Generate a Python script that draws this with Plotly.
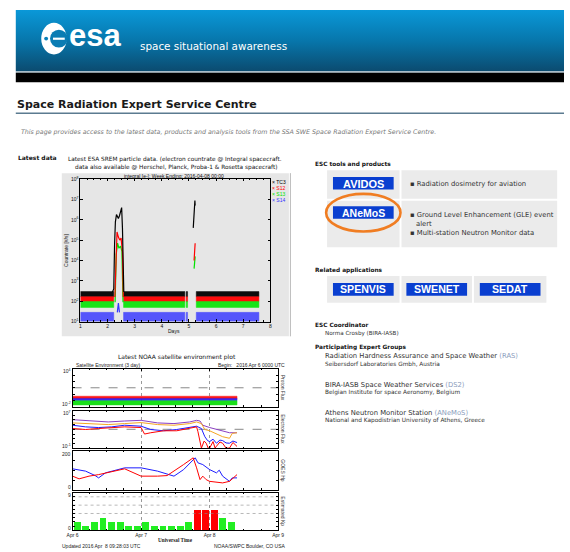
import plotly.graph_objects as go

W, H = 570, 552

# ---------------- SREM / INTEGRAL (top-left chart) ----------------
srem_day_ticks = [1, 2, 3, 4, 5, 6, 7, 8]
srem_decades = [1, 2, 3, 4, 5, 6, 7, 8]
srem_names = ["TC3", "S12", "S13", "S14"]
srem_colors = ["#000000", "#ff0000", "#00e400", "#3535ff"]
# data segments (days) with background count-rate bands (log10 #/s)
srem_seg_start = [1.00, 2.59, 4.90, 5.27]
srem_seg_end = [2.23, 4.85, 4.95, 7.58]
tc3_band = [2.22, 2.47]
s12_band = [1.98, 2.22]
s13_band = [1.69, 1.98]
s14_band = [1.00, 1.45]
# belt passes / spikes (day, log10 #/s)
tc3_spike1_day = [2.18, 2.23, 2.26, 2.29, 2.33, 2.36, 2.40, 2.44, 2.48, 2.52, 2.55, 2.57, 2.60]
tc3_spike1_log = [2.45, 2.60, 4.80, 5.90, 6.26, 6.15, 6.06, 6.20, 6.45, 6.60, 5.60, 3.40, 2.45]
s12_spike1_day = [2.27, 2.31, 2.35, 2.40, 2.45, 2.50, 2.55, 2.58]
s12_spike1_log = [2.20, 4.50, 5.40, 5.15, 5.00, 5.10, 4.40, 2.20]
s13_spike1_day = [2.28, 2.32, 2.37, 2.42, 2.48, 2.53, 2.57]
s13_spike1_log = [1.95, 4.30, 4.85, 4.60, 4.70, 4.45, 1.95]
s14_spike1_day = [2.36, 2.40, 2.44]
s14_spike1_log = [1.45, 1.90, 1.45]
tc3_spike2_day = [5.16, 5.18, 5.20, 5.22, 5.23]
tc3_spike2_log = [5.60, 6.20, 6.80, 6.95, 6.70]
s12_spike2_day = [5.19, 5.21, 5.23]
s12_spike2_log = [4.00, 4.60, 4.85]
s13_spike2_day = [5.19, 5.21, 5.23]
s13_spike2_log = [3.60, 4.00, 4.20]

# ---------------- NOAA satellite environment (bottom-left) ----------------
noaa_day_ticks = [0, 1, 2, 3]
noaa_day_labels = ["Apr 6", "Apr 7", "Apr 8", "Apr 9"]
proton_days = [0.0, 2.40]
proton_red_band = [-0.85, -0.35]
proton_blue_band = [-1.06, -0.70]
proton_green_band = [-1.74, -1.06]
proton_threshold = 1.0
electron_threshold = 3.0

e_purple_day = [0, 0.29, 0.52, 0.76, 1.0, 1.24, 1.48, 1.71, 1.81, 1.86, 1.90, 2.0, 2.10, 2.19, 2.29, 2.40]
e_purple_log = [5.05, 4.77, 4.57, 4.77, 4.91, 4.36, 4.22, 4.57, 4.91, 4.77, 3.87, 3.38, 2.96, 2.69, 2.27, 2.27]
e_orange_day = [0, 0.29, 0.52, 0.76, 1.0, 1.24, 1.48, 1.71, 1.81, 1.88, 1.93, 2.0, 2.10, 2.19, 2.29, 2.33, 2.40]
e_orange_log = [4.36, 4.22, 4.01, 4.22, 4.43, 4.01, 3.87, 4.22, 4.57, 4.22, 2.96, 2.69, 1.99, 1.43, 1.09, 2.13, 2.27]
e_blue_day = [0, 0.19, 0.38, 0.57, 0.76, 1.0, 1.14, 1.33, 1.52, 1.71, 1.81, 1.88, 1.93, 1.97, 2.0, 2.05, 2.10, 2.15, 2.19, 2.24, 2.29, 2.34, 2.40]
e_blue_log = [3.87, 3.52, 3.38, 3.52, 3.87, 3.66, 2.96, 2.69, 2.96, 3.38, 3.66, 3.17, 1.43, 0.60, 0.39, 0.90, 0.04, 0.70, 0.60, 0.10, 0.04, 0.50, 0.18]
e_red_day = [0, 0.19, 0.38, 0.76, 1.0, 1.05, 1.14, 1.33, 1.52, 1.71, 1.81, 1.83, 1.87, 1.88, 1.92, 1.95, 1.98, 2.0, 2.05, 2.08, 2.10, 2.15, 2.19, 2.24, 2.29, 2.34, 2.40]
e_red_log = [3.17, 2.96, 3.17, 3.52, 3.38, 1.99, 2.27, 2.69, 2.69, 3.17, 3.52, 2.48, 0.04, -1.0, 0.50, 0.04, -1.0, -1.0, 0.39, -1.0, -0.6, 0.3, 0.04, -1.0, -1.0, 0.2, -0.65]

hp_blue_day = [0, 0.19, 0.33, 0.38, 0.48, 0.76, 1.0, 1.24, 1.48, 1.62, 1.79, 1.83, 1.90, 2.0, 2.10, 2.14, 2.19, 2.29, 2.33, 2.40]
hp_blue = [108, 96, 73, 61, 87, 113, 113, 96, 70, 104, 165, 139, 130, 104, 87, 101, 70, 43, 61, 61]
hp_red_day = [0, 0.095, 0.24, 0.38, 0.76, 0.90, 1.0, 1.24, 1.38, 1.62, 1.76, 1.81, 1.86, 1.90, 1.95, 2.0, 2.10, 2.19, 2.29, 2.40]
hp_red = [70, 56, 70, 78, 108, 87, 70, 70, 73, 130, 165, 113, 52, 70, 52, 43, 38, 35, 43, 78]

kp_bin_center = [0.0625, 0.1875, 0.3125, 0.4375, 0.5625, 0.6875, 0.8125, 0.9375, 1.0625, 1.1875,
                 1.3125, 1.4375, 1.5625, 1.6875, 1.8125, 1.9375, 2.0625, 2.1875, 2.3125]
kp_values = [2, 1, 2, 3, 2, 2, 1, 1, 2, 1, 1, 1, 1, 2, 5, 5, 5, 3, 2]
kp_levels = [4, 6, 8]

# ---------------------------------------------------------------------------
PAGE_FONT = "DejaVu Sans"
PLOT_FONT = "Liberation Sans"
TINY = 5.0

fig = go.Figure()
shapes = []
annos = []


def ydom(top, bottom):
    return [1 - bottom / H, 1 - top / H]


def xdom(left, right):
    return [left / W, right / W]


def rect(x0, y0, x1, y1, fill, layer="below", line=None):
    shapes.append(dict(type="rect", xref="x", yref="y", x0=x0, x1=x1, y0=y0, y1=y1,
                       fillcolor=fill, line=line or dict(width=0), layer=layer))


def txt(x, y, s, size=6, color="#222222", anchor="left", font=PAGE_FONT, angle=0):
    annos.append(dict(x=x, y=y, xref="x", yref="y", text=s, showarrow=False,
                      xanchor=anchor, yanchor="middle", textangle=angle,
                      font=dict(family=font, size=size, color=color),
                      borderpad=0, borderwidth=0))


# ---------- base pixel axis ----------
fig.update_layout(
    xaxis=dict(domain=[0, 1], range=[0, W], visible=False, fixedrange=True),
    yaxis=dict(domain=[0, 1], range=[H, 0], visible=False, fixedrange=True),
)

# header banner with gradient
fig.add_trace(go.Scatter(
    x=[10, W, W, 10, 10], y=[7, 7, 69, 69, 7], mode="lines", line=dict(width=0),
    fill="toself", fillgradient=dict(type="vertical", start=7, stop=69,
                                     colorscale=[[0, "#0a98d8"], [0.5, "#0776ab"], [1, "#0b4a6e"]]),
    hoverinfo="skip", showlegend=False, xaxis="x", yaxis="y"))
rect(10, 69, W, 70.5, "#9fb5c2", layer="above")
rect(10, 70.5, W, 80, "#000000", layer="above")

# ESA logo (stylised)
shapes.append(dict(type="circle", xref="x", yref="y", x0=36, x1=62, y0=20, y1=52,
                   fillcolor="#ffffff", line=dict(width=0), layer="above"))
shapes.append(dict(type="circle", xref="x", yref="y", x0=45, x1=63, y0=27, y1=45,
                   fillcolor="#0a7cb3", line=dict(width=0), layer="above"))
rect(48, 35, 60, 37.2, "#ffffff", layer="above")
shapes.append(dict(type="circle", xref="x", yref="y", x0=39, x1=43, y0=34, y1=38,
                   fillcolor="#0a80b8", line=dict(width=0), layer="above"))
txt(64, 33, "<b>esa</b>", size=31, color="#ffffff", font="Liberation Sans")
txt(137, 43, "space situational awareness", size=10.4, color="#ffffff", font=PAGE_FONT)

# titles
txt(11, 103, "<b>Space Radiation Expert Service Centre</b>", size=11, color="#1a1a1a")
shapes.append(dict(type="line", xref="x", yref="y", x0=10, x1=W, y0=111.5, y1=111.5,
                   line=dict(color="#5b7b90", width=1.5)))
txt(15, 130, "<i>This page provides access to the latest data, products and analysis tools from the SSA SWE Space Radiation Expert Service Centre.</i>",
    size=6.3, color="#777777")
txt(12, 156, "<b>Latest data</b>", size=6, color="#111111")

# ---------- SREM chart ----------
txt(173, 158, "Latest ESA SREM particle data. (electron countrate @ Integral spacecraft.", size=5.8,
    color="#111111", anchor="center")
txt(174, 166.5, "data also available @ Herschel, Planck, Proba-1 & Rosetta spacecraft)", size=5.8,
    color="#111111", anchor="center")
rect(57, 172, 289, 337, "#e6e6e6")
shapes.append(dict(type="line", xref="x", yref="y", x0=290.5, x1=290.5, y0=172, y1=337,
                   line=dict(color="#b8b8b8", width=1)))
txt(172, 175, "integral [e-]: Week Ending: 2016-04-08 00:00", size=TINY, color="#111111",
    anchor="center", font=PLOT_FONT)
txt(62, 250, "Countrate [#/s]", size=TINY, color="#111111", anchor="center", font=PLOT_FONT, angle=-90)
txt(172, 332, "Days", size=TINY, color="#111111", anchor="center", font=PLOT_FONT)
for i, (nm, col) in enumerate(zip(srem_names, srem_colors)):
    txt(272, 181 + 6 * i, "× " + nm, size=TINY, color=col, font=PLOT_FONT)


def band_xy(starts, ends, lo, hi):
    xs, ys = [], []
    for s, e in zip(starts, ends):
        xs += [s, e, e, s, s, None]
        ys += [10 ** lo, 10 ** lo, 10 ** hi, 10 ** hi, 10 ** lo, None]
    return xs, ys


bands = [tc3_band, s12_band, s13_band, s14_band]
for band, col, op in zip(bands, srem_colors, [0.95, 0.95, 0.9, 0.82]):
    bx, by = band_xy(srem_seg_start, srem_seg_end, band[0], band[1])
    fig.add_trace(go.Scatter(x=bx, y=by, mode="lines", line=dict(width=0.5, color=col),
                             fill="toself", fillcolor=col, opacity=op, hoverinfo="skip",
                             showlegend=False, xaxis="x2", yaxis="y2"))

spikes = [
    (s14_spike1_day, s14_spike1_log, srem_colors[3]),
    (s13_spike1_day, s13_spike1_log, srem_colors[2]),
    (s12_spike1_day, s12_spike1_log, srem_colors[1]),
    (tc3_spike1_day, tc3_spike1_log, srem_colors[0]),
    (s13_spike2_day, s13_spike2_log, srem_colors[2]),
    (s12_spike2_day, s12_spike2_log, srem_colors[1]),
    (tc3_spike2_day, tc3_spike2_log, srem_colors[0]),
]
for dx, lg, col in spikes:
    fig.add_trace(go.Scatter(x=dx, y=[10 ** v for v in lg], mode="lines",
                             line=dict(width=1.2, color=col), hoverinfo="skip",
                             showlegend=False, xaxis="x2", yaxis="y2"))

axis_common = dict(showline=True, linecolor="#000000", linewidth=0.8, mirror="ticks",
                   ticks="inside", ticklen=2.5, tickwidth=0.6, tickcolor="#000000",
                   showgrid=False, zeroline=False, fixedrange=True)
fig.update_layout(
    xaxis2=dict(domain=xdom(76, 270), anchor="y2", range=[1, 8], tickvals=srem_day_ticks,
                tickfont=dict(family=PLOT_FONT, size=TINY, color="#111"),
                minor=dict(ticks="inside", ticklen=1.5, dtick=0.25, tickcolor="#000"),
                **axis_common),
    yaxis2=dict(domain=ydom(178, 322), anchor="x2", type="log", range=[1, 8],
                tickvals=[10 ** k for k in srem_decades],
                ticktext=["10<sup>%d</sup>" % k for k in srem_decades],
                tickfont=dict(family=PLOT_FONT, size=TINY, color="#111"),
                **axis_common),
)

# ---------- NOAA chart ----------
txt(175, 357.5, "Latest NOAA satellite environment plot", size=6, color="#111111", anchor="center")
txt(72, 365.5, "Satellite Environment (3 day)", size=TINY, color="#222222", font=PLOT_FONT)
txt(285, 365.5, "Begin:   2016 Apr 6 0000 UTC", size=TINY, color="#222222", font=PLOT_FONT, anchor="right")
txt(57, 548.5, "Updated 2016 Apr  8 09:28:03 UTC", size=TINY, color="#222222", font=PLOT_FONT)
txt(286, 548.5, "NOAA/SWPC Boulder, CO USA", size=TINY, color="#222222", font=PLOT_FONT, anchor="right")
txt(173, 543, "<b>Universal Time</b>", size=5.2, color="#222222", font="Liberation Serif", anchor="center")

panel_rows = [(370, 408, "Proton Flux"), (412, 450, "Electron Flux"),
              (453, 492, "GOES Hp"), (495, 533, "Estimated Kp")]
for top, bot, lab in panel_rows:
    txt(283, (top + bot) / 2, lab, size=TINY, color="#333333", anchor="center", font=PLOT_FONT, angle=90)

# panel end labels (top / bottom of each y range)
panel_end_labels = [("10<sup>4</sup>", "10<sup>-2</sup>"), ("10<sup>7</sup>", "10<sup>-1</sup>"),
                    ("200", "0"), ("9", "0")]
for (top, bot, _), (lt, lb) in zip(panel_rows, panel_end_labels):
    txt(66, top + 2.5, lt, size=TINY, color="#222222", font=PLOT_FONT, anchor="right")
    txt(66, bot - 2.5, lb, size=TINY, color="#222222", font=PLOT_FONT, anchor="right")

# proton flux bands
for band, col in [(proton_red_band, "#ff0000"), (proton_blue_band, "#2020ff"),
                  (proton_green_band, "#00dd00")]:
    bx, by = band_xy([proton_days[0]], [proton_days[1]], band[0], band[1])
    fig.add_trace(go.Scatter(x=bx, y=by, mode="lines", line=dict(width=0.5, color=col),
                             fill="toself", fillcolor=col, opacity=0.9, hoverinfo="skip",
                             showlegend=False, xaxis="x3", yaxis="y3"))
fig.add_trace(go.Scatter(x=[0, 3], y=[10 ** proton_threshold] * 2, mode="lines",
                         line=dict(width=0.7, color="#555555", dash="dash"),
                         hoverinfo="skip", showlegend=False, xaxis="x3", yaxis="y3"))

# electron flux
fig.add_trace(go.Scatter(x=[0, 3], y=[10 ** electron_threshold] * 2, mode="lines",
                         line=dict(width=0.7, color="#555555", dash="dash"),
                         hoverinfo="skip", showlegend=False, xaxis="x4", yaxis="y4"))
for dx, lg, col in [(e_purple_day, e_purple_log, "#8a3fc0"), (e_orange_day, e_orange_log, "#f5a623"),
                    (e_blue_day, e_blue_log, "#1c1cff"), (e_red_day, e_red_log, "#ff0000")]:
    fig.add_trace(go.Scatter(x=dx, y=[10 ** v for v in lg], mode="lines",
                             line=dict(width=1.0, color=col), hoverinfo="skip",
                             showlegend=False, xaxis="x4", yaxis="y4"))

# GOES Hp
for dx, vals, col in [(hp_blue_day, hp_blue, "#1c1cff"), (hp_red_day, hp_red, "#ff0000")]:
    fig.add_trace(go.Scatter(x=dx, y=vals, mode="lines", line=dict(width=1.0, color=col),
                             hoverinfo="skip", showlegend=False, xaxis="x5", yaxis="y5"))

# Kp
for lv in kp_levels:
    fig.add_trace(go.Scatter(x=[0, 3], y=[lv, lv], mode="lines",
                             line=dict(width=0.6, color="#888888", dash="dot"),
                             hoverinfo="skip", showlegend=False, xaxis="x6", yaxis="y6"))
kp_colors = ["#ff0000" if v >= 5 else ("#ffdd00" if v == 4 else "#22ee22") for v in kp_values]
fig.add_trace(go.Bar(x=kp_bin_center, y=kp_values, width=0.1, marker=dict(color=kp_colors, line=dict(width=0)),
                     hoverinfo="skip", showlegend=False, xaxis="x6", yaxis="y6"))

noaa_x = dict(domain=xdom(68, 278), range=[0, 3], tickvals=noaa_day_ticks,
              showgrid=True, gridcolor="#999999", griddash="dot", gridwidth=0.7,
              minor=dict(ticks="inside", ticklen=1.5, dtick=0.25, tickcolor="#000"),
              showline=True, linecolor="#000000", linewidth=0.8, mirror="ticks",
              ticks="inside", ticklen=2.5, tickwidth=0.6, tickcolor="#000000",
              zeroline=False, fixedrange=True,
              tickfont=dict(family=PLOT_FONT, size=TINY, color="#222"))
noaa_y = dict(showline=True, linecolor="#000000", linewidth=0.8, mirror="ticks",
              ticks="inside", ticklen=2.5, tickwidth=0.6, tickcolor="#000000",
              showgrid=False, zeroline=False, fixedrange=True, showticklabels=False)

p_dec = list(range(-2, 5))
e_dec = list(range(-1, 8))
fig.update_layout(
    xaxis3=dict(anchor="y3", showticklabels=False, **noaa_x),
    xaxis4=dict(anchor="y4", showticklabels=False, **noaa_x),
    xaxis5=dict(anchor="y5", showticklabels=False, **noaa_x),
    xaxis6=dict(anchor="y6", ticktext=noaa_day_labels, **noaa_x),
    yaxis3=dict(domain=ydom(370, 408), anchor="x3", type="log", range=[-2, 4],
                tickvals=[10 ** k for k in p_dec], **noaa_y),
    yaxis4=dict(domain=ydom(412, 450), anchor="x4", type="log", range=[-1, 7],
                tickvals=[10 ** k for k in e_dec], **noaa_y),
    yaxis5=dict(domain=ydom(453, 492), anchor="x5", range=[0, 200],
                tickvals=[0, 50, 100, 150, 200], **noaa_y),
    yaxis6=dict(domain=ydom(495, 533), anchor="x6", range=[0, 9],
                tickvals=list(range(10)), **noaa_y),
)

# ---------- right column ----------
HEAD = 5.8
BODY = 6.8
SUB = 5.8
txt(316, 163, "<b>ESC tools and products</b>", size=HEAD, color="#111111")
cell = "#ebebeb"
btn = "#0a3fd0"
rect(328, 169, 402, 198, cell)
rect(404, 169, 563, 198, cell)
rect(328, 200, 402, 247, cell)
rect(404, 200, 563, 247, cell)
rect(334, 176, 396, 188.5, btn)
rect(334, 205.5, 396, 218, btn)
txt(365, 182.5, "<b>AVIDOS</b>", size=11, color="#ffffff", anchor="center", font="Liberation Sans")
txt(365, 212, "<b>ANeMoS</b>", size=10.5, color="#ffffff", anchor="center", font="Liberation Sans")
shapes.append(dict(type="circle", xref="x", yref="y", x0=327, x1=403, y0=193, y1=231,
                   line=dict(color="#f07d22", width=2.6), layer="above"))
txt(413, 183, "▪ Radiation dosimetry for aviation", size=BODY, color="#333333")
txt(413, 214, "▪ Ground Level Enhancement (GLE) event", size=BODY, color="#333333")
txt(419, 223.5, "alert", size=BODY, color="#333333")
txt(413, 233, "▪ Multi-station Neutron Monitor data", size=BODY, color="#333333")

txt(316, 270, "<b>Related applications</b>", size=HEAD, color="#111111")
for (cx0, cx1), (bx0, bx1), name in zip([(328, 402), (404, 476), (478, 552)],
                                        [(334, 396), (409, 471), (484, 546)],
                                        ["SPENVIS", "SWENET", "SEDAT"]):
    rect(cx0, 276, cx1, 303, cell)
    rect(bx0, 283, bx1, 296, btn)
    txt((bx0 + bx1) / 2, 289.5, "<b>%s</b>" % name, size=10.6, color="#ffffff", anchor="center",
        font="Liberation Sans")

txt(316, 326, "<b>ESC Coordinator</b>", size=HEAD, color="#111111")
txt(326, 334, "Norma Crosby (BIRA-IASB)", size=5.6, color="#333333")
txt(316, 348, "<b>Participating Expert Groups</b>", size=HEAD, color="#111111")
link = "#8a9cbc"
txt(326, 357, "Radiation Hardness Assurance and Space Weather <span style='color:%s'>(RAS)</span>" % link,
    size=BODY, color="#333333")
txt(326, 365, "Seibersdorf Laboratories Gmbh, Austria", size=SUB, color="#333333")
txt(326, 386, "BIRA-IASB Space Weather Services <span style='color:%s'>(DS2)</span>" % link,
    size=BODY, color="#333333")
txt(326, 394, "Belgian Institute for space Aeronomy, Belgium", size=SUB, color="#333333")
txt(326, 415, "Athens Neutron Monitor Station <span style='color:%s'>(ANeMoS)</span>" % link,
    size=BODY, color="#333333")
txt(326, 422.5, "National and Kapodistrian University of Athens, Greece", size=SUB, color="#333333")

fig.update_layout(
    width=W, height=H, autosize=False,
    margin=dict(l=0, r=0, t=0, b=0, pad=0),
    paper_bgcolor="#ffffff", plot_bgcolor="rgba(0,0,0,0)",
    showlegend=False, shapes=shapes, annotations=annos,
    bargap=0,
)

fig.write_html("out.html", config={"displayModeBar": False},
               post_script="document.body.style.margin='0px';document.body.style.padding='0px';")
